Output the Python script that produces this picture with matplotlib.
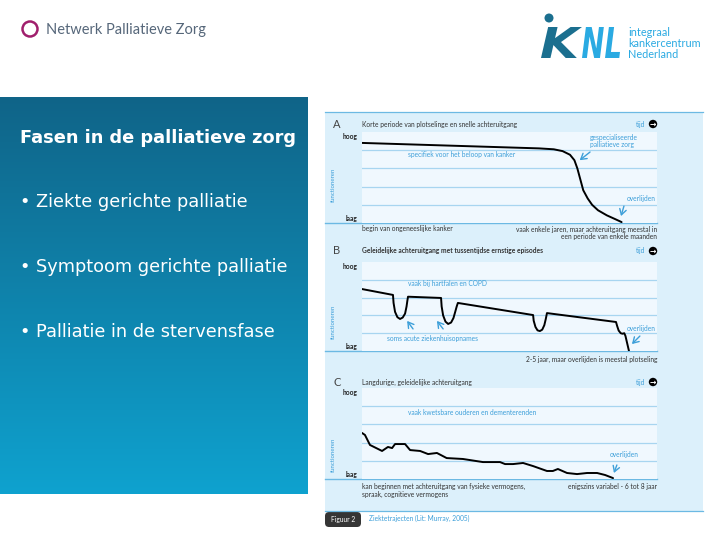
import numpy as np
import matplotlib
matplotlib.use("Agg")
import matplotlib.pyplot as plt
from matplotlib.patches import Rectangle, Circle, PathPatch, FancyBboxPatch
from matplotlib.textpath import TextPath
from matplotlib.font_manager import FontProperties
from matplotlib.transforms import Affine2D

# ---- data -------------------------------------------------------------
# functioneren (0 = laag, 5 = hoog) against tijd (0..100)
curve_a_x = [0, 20, 40, 60, 65, 68, 70.5, 72, 73, 74, 75, 76.5, 78, 80, 83, 86, 88]
curve_a_y = [4.4, 4.3, 4.2, 4.1, 4.05, 3.95, 3.75, 3.45, 3.0, 2.4, 1.8, 1.35, 1.0, 0.7, 0.42, 0.2, 0.05]

curve_b_x = [0, 10.5, 10.7, 11.2, 12.0, 12.9, 13.8, 14.6, 15.1, 15.4, 15.6,
             26.8, 27.0, 27.5, 28.3, 29.2, 30.2, 31.0, 31.6, 32.1, 32.5,
             58, 58.2, 58.8, 59.5, 60.3, 61.1, 61.8, 62.3, 62.7,
             86.1, 86.5, 87.0, 87.7, 88.3, 88.9, 89.3, 90.5]
curve_b_y = [3.48, 3.15, 2.7, 2.2, 1.9, 1.8, 1.88, 2.1, 2.5, 2.85, 3.05,
             2.98, 2.5, 2.0, 1.65, 1.52, 1.6, 1.85, 2.2, 2.5, 2.7,
             2.02, 1.7, 1.35, 1.16, 1.12, 1.2, 1.45, 1.8, 2.13,
             1.63, 1.4, 1.15, 1.0, 0.97, 1.0, 0.85, 0.0]

curve_c_x = [0, 1.0, 2.7, 6.8, 8.8, 10.2, 11.2, 14.6, 16.3, 19.7, 22.4, 25.4, 28.7, 34.2, 41,
             46.8, 48.5, 51.2, 54.6, 58, 62.7, 64.7, 66.4, 69.5, 72.9, 76.3, 79.7, 82.4, 85.1]
curve_c_y = [2.53, 2.42, 1.87, 1.54, 1.76, 1.7, 1.92, 1.92, 1.59, 1.54, 1.37, 1.43, 1.15, 1.1, 0.93,
             0.93, 0.82, 0.82, 0.88, 0.71, 0.44, 0.44, 0.55, 0.33, 0.27, 0.33, 0.33, 0.22, 0.05]

panel_letters = ["A", "B", "C"]
panel_titles = ["Korte periode van plotselinge en snelle achteruitgang",
                "Geleidelijke achteruitgang met tussentijdse ernstige episodes",
                "Langdurige, geleidelijke achteruitgang"]
bullets = ["Ziekte gerichte palliatie", "Symptoom gerichte palliatie",
           "Palliatie in de stervensfase"]

# ---- colours ----------------------------------------------------------
LIGHT_BG = "#dcf0fb"
PLOT_BG = "#f0f8fe"
GRID = "#a8d5f0"
EDGE = "#6cb9e3"
BLUE_TXT = "#3d9fd9"
DARK_TXT = "#333333"
SMALL = "Lato"

fig = plt.figure(figsize=(7.2, 5.4), dpi=100)
bg = fig.add_axes([0, 0, 1, 1])
bg.axis("off")


def px_axes(x0, y0, x1, y1):
    return fig.add_axes([x0 / 720, 1 - y1 / 540, (x1 - x0) / 720, (y1 - y0) / 540])


# ---- header logos -----------------------------------------------------
bg.add_patch(Circle((30, 29), 7.5, fill=False, ec="#a01f6c", lw=1.8))
bg.text(46, 30, "Netwerk Palliatieve Zorg", fontsize=10.5, family="Lato",
        color="#56677a", va="center")

fp = FontProperties(family="DejaVu Sans", weight="bold", style="italic")
for txt, col, x0, w in [("K", "#1b6f8f", 541, 41), ("NL", "#2aaae2", 582, 38)]:
    tp = TextPath((0, 0), txt, size=1, prop=fp)
    ext = tp.get_extents()
    sx = w / ext.width
    sy = 31 / ext.height
    tr = Affine2D().translate(-ext.x0, -ext.y0).scale(sx, -sy).translate(x0, 58) + bg.transData
    bg.add_patch(PathPatch(tp, fc=col, ec="none", transform=tr))
bg.add_patch(Circle((549, 18), 4.5, fc="#1b6f8f", ec="none"))
for i, line in enumerate(["integraal", "kankercentrum", "Nederland"]):
    bg.text(628, 32 + i * 11.5, line, fontsize=7.8, family="Lato", color="#2aaae2", va="center")

# ---- blue text panel --------------------------------------------------
grad = np.linspace(0, 1, 256)[:, None]
top = np.array([16, 100, 136]) / 255
bot = np.array([14, 162, 207]) / 255
img = top + grad[..., None] * (bot - top)
bg.imshow(img, extent=(0, 308, 494, 97), aspect="auto", zorder=0)
bg.text(20, 138, "Fasen in de palliatieve zorg", fontsize=12.8, weight="bold",
        color="white", va="center", family="DejaVu Sans")
for i, b in enumerate(bullets):
    bg.text(20, 202 + i * 65, "\u2022 " + b, fontsize=12.8, color="white", va="center",
            family="DejaVu Sans")

# ---- figure background ------------------------------------------------
bg.add_patch(Rectangle((325, 112), 378, 399, fc=LIGHT_BG, ec="none", zorder=0))
bg.plot([325, 703], [112, 112], color=EDGE, lw=0.9)
bg.plot([325, 703], [511, 511], color=EDGE, lw=0.9)

panels = [
    dict(rect=(362, 132, 657, 223), head=124, x=curve_a_x, y=curve_a_y, func=185),
    dict(rect=(362, 262, 657, 351), head=251, x=curve_b_x, y=curve_b_y, func=322),
    dict(rect=(362, 388, 657, 479), head=382, x=curve_c_x, y=curve_c_y, func=455),
]

axes = []
for letter, title, p in zip(panel_letters, panel_titles, panels):
    x0, y0, x1, y1 = p["rect"]
    ax = px_axes(x0, y0, x1, y1)
    ax.set_facecolor(PLOT_BG)
    ax.set_xlim(0, 100)
    ax.set_ylim(0, 5)
    for s in ax.spines.values():
        s.set_visible(False)
    ax.set_xticks([])
    ax.set_yticks([])
    for g in [1, 2, 3, 4]:
        ax.axhline(g, color=GRID, lw=0.9, zorder=1)
    ax.plot(p["x"], p["y"], color="black", lw=1.4, zorder=3, solid_capstyle="round",
            solid_joinstyle="round")
    axes.append(ax)

    bg.plot([325, x1], [y1, y1], color=EDGE, lw=1.0)
    bg.text(333, p["head"], letter, fontsize=8, color="#444444", va="center", family=SMALL)
    bg.text(362, p["head"], title, fontsize=4.8, color=DARK_TXT, va="center", family=SMALL,
            weight="bold" if letter == "B" else "normal")
    bg.text(645, p["head"], "tijd", fontsize=4.8, color=BLUE_TXT, va="center", ha="right",
            family=SMALL)
    bg.add_patch(Circle((653, p["head"]), 4.2, fc="black", ec="none"))
    bg.text(653, p["head"], "\u2192", fontsize=5.5, color="white", va="center", ha="center",
            weight="bold")
    bg.text(358, y0 + 5, "hoog", fontsize=4.8, weight="bold", color="#222222", va="center",
            ha="right", family=SMALL)
    bg.text(358, y1 - 5, "laag", fontsize=4.8, weight="bold", color="#222222", va="center",
            ha="right", family=SMALL)
    bg.text(333, p["func"], "functioneren", fontsize=4.4, color=BLUE_TXT, rotation=90,
            va="center", ha="center", family=SMALL)

arrow = dict(arrowstyle="->,head_length=0.5,head_width=0.3", color=BLUE_TXT, lw=1.0,
             mutation_scale=8, shrinkA=0, shrinkB=0)
ann = dict(fontsize=4.8, color=BLUE_TXT, family=SMALL)

# panel A
ax = axes[0]
ax.text(77.3, 4.5, "gespecialiseerde\npalliatieve zorg", va="center", linespacing=1.0, **ann)
ax.text(15.6, 3.74, "specifiek voor het beloop van kanker", va="center", **ann)
ax.text(99.5, 1.32, "overlijden", va="center", ha="right", **ann)
ax.annotate("", xy=(73.8, 3.45), xytext=(77.3, 3.9), arrowprops=arrow)
ax.annotate("", xy=(87.8, 0.38), xytext=(88.8, 0.93), arrowprops=arrow)

# panel B
ax = axes[1]
ax.text(15.6, 3.82, "vaak bij hartfalen en COPD", va="center", **ann)
ax.text(8.5, 0.73, "soms acute ziekenhuisopnames", va="center", **ann)
ax.text(99.5, 1.24, "overlijden", va="center", ha="right", **ann)
ax.annotate("", xy=(15.3, 1.69), xytext=(17.3, 1.24), arrowprops=arrow)
ax.annotate("", xy=(25.4, 1.69), xytext=(27.5, 1.24), arrowprops=arrow)
ax.annotate("", xy=(91.5, 0.39), xytext=(94.2, 0.84), arrowprops=arrow)

# panel C
ax = axes[2]
ax.text(15.6, 3.63, "vaak kwetsbare ouderen en dementerenden", va="center", **ann)
ax.text(84.1, 1.32, "overlijden", va="center", **ann)
ax.annotate("", xy=(85.4, 0.33), xytext=(86.4, 0.77), arrowprops=arrow)

# notes under the panels
note = dict(fontsize=4.8, color=DARK_TXT, family=SMALL, va="center")
bg.text(362, 229, "begin van ongeneeslijke kanker", **note)
bg.text(657, 232.5, "vaak enkele jaren, maar achteruitgang meestal in\neen periode van enkele maanden",
        ha="right", linespacing=1.0, **note)
bg.text(657, 359, "2-5 jaar, maar overlijden is meestal plotseling", ha="right", **note)
bg.text(362, 490.5, "kan beginnen met achteruitgang van fysieke vermogens,\nspraak, cognitieve vermogens",
        linespacing=1.0, **note)
bg.text(657, 487, "enigszins variabel - 6 tot 8 jaar", ha="right", **note)

# figure caption tab
bg.add_patch(FancyBboxPatch((325, 512), 36, 15, boxstyle="round,pad=0,rounding_size=4",
                            fc="#353535", ec="none"))
bg.text(343, 519.5, "Figuur 2", fontsize=4.8, color="white", ha="center", va="center", family=SMALL)
bg.text(369, 518, "Ziektetrajecten (Lit: Murray, 2005)", fontsize=4.8, color=BLUE_TXT,
        va="center", family=SMALL)

bg.set_xlim(0, 720)
bg.set_ylim(540, 0)

fig.savefig("out.png", dpi=100)
